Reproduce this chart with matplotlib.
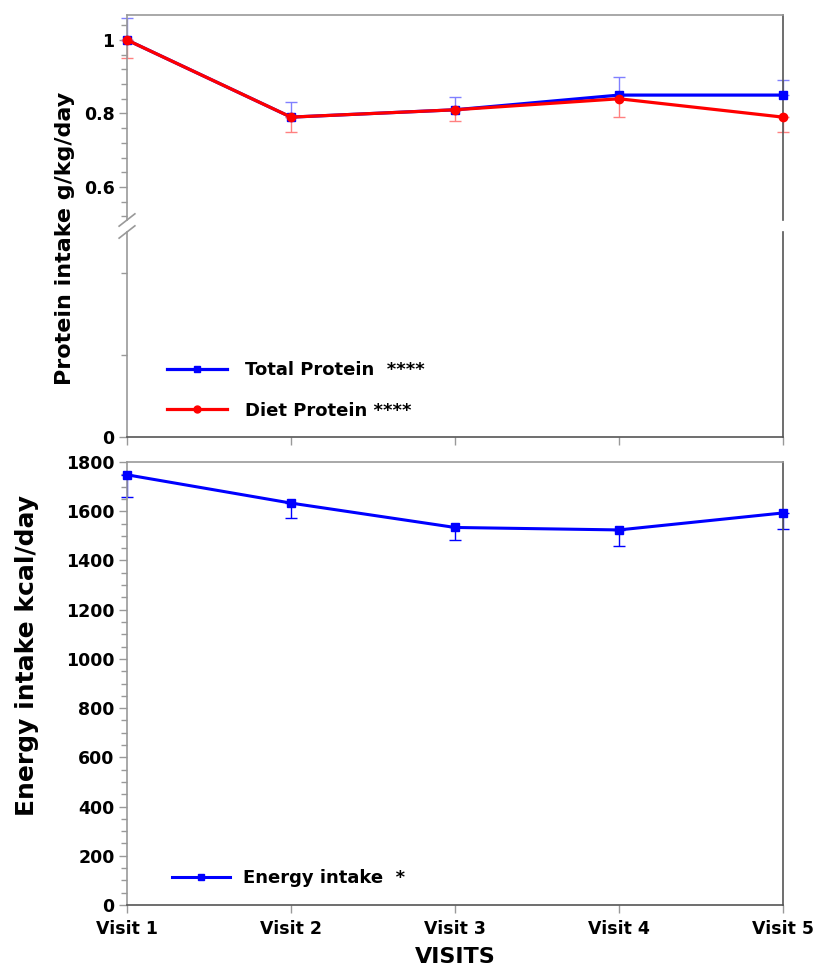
import matplotlib
matplotlib.use("Agg")
import matplotlib.pyplot as plt
from matplotlib.ticker import MultipleLocator, FuncFormatter, FixedLocator
from matplotlib.lines import Line2D

# ---------------- data ----------------
visits = ["Visit 1", "Visit 2", "Visit 3", "Visit 4", "Visit 5"]
total_protein = [1.00, 0.79, 0.81, 0.85, 0.85]
total_protein_err = [0.06, 0.04, 0.035, 0.05, 0.04]
diet_protein = [1.00, 0.79, 0.81, 0.84, 0.79]
diet_protein_err = [0.05, 0.04, 0.03, 0.05, 0.04]
energy = [1748, 1633, 1534, 1524, 1593]
energy_err = [90, 60, 51, 65, 65]
legend_protein = ["Total Protein  ****", "Diet Protein ****"]
legend_energy = ["Energy intake  *"]

W, H = 817, 974
fig = plt.figure(figsize=(W / 100, H / 100), dpi=100)
plt.rcParams['font.family'] = ['DejaVu Sans']
plt.rcParams['font.weight'] = 'bold'

BLUE = '#0000ff'
RED = '#ff0000'
GRAY = '#999999'
DARK = '#555555'

def fx(px):
    return px / W

def fy(py):
    return 1 - py / H

left = fx(127)
width = fx(783) - fx(127)

ax_up = fig.add_axes([left, fy(220), width, (220 - 15) / H])
ax_lo = fig.add_axes([left, fy(437), width, (437 - 232) / H])
ax_en = fig.add_axes([left, fy(905), width, (905 - 462) / H])

x = list(range(1, len(visits) + 1))
zeros = [0] * len(x)

def style(ax):
    for s in ax.spines.values():
        s.set_color(GRAY)
        s.set_linewidth(1.2)
    ax.spines['right'].set_color(DARK)
    ax.spines['bottom'].set_color(DARK)
    ax.tick_params(axis='both', which='major', direction='out', length=6,
                   width=1, color=GRAY, labelsize=12.5, pad=3)
    ax.tick_params(axis='both', which='minor', direction='out', length=4,
                   width=1, color=GRAY)
    ax.set_xlim(1, 5)

fmt = FuncFormatter(lambda v, p: "%g" % round(v, 3))

# ---- top panel, upper segment (data) ----
ax_up.errorbar(x, total_protein, yerr=[zeros, total_protein_err], fmt='none',
               ecolor='#8080ff', elinewidth=1, capsize=4, capthick=1, clip_on=False, zorder=2)
ax_up.errorbar(x, diet_protein, yerr=[diet_protein_err, zeros], fmt='none',
               ecolor='#ff8080', elinewidth=1, capsize=4, capthick=1, clip_on=False, zorder=2)
ax_up.plot(x, total_protein, color=BLUE, lw=2.3, marker='s', ms=6, clip_on=False, zorder=3)
ax_up.plot(x, diet_protein, color=RED, lw=2.3, marker='o', ms=6, clip_on=False, zorder=4)
style(ax_up)
style(ax_lo)

ax_up.set_ylim(0.51, 1.068)
ax_up.yaxis.set_major_locator(MultipleLocator(0.2))
ax_up.yaxis.set_minor_locator(MultipleLocator(0.04))
ax_up.yaxis.set_major_formatter(fmt)
ax_up.spines['bottom'].set_visible(False)
ax_up.set_xticks([])
for lab in ax_up.get_yticklabels():
    lab.set_fontweight('bold')

ax_lo.set_ylim(0, 0.5)
ax_lo.yaxis.set_major_locator(FixedLocator([0]))
ax_lo.yaxis.set_minor_locator(FixedLocator([0.2, 0.4]))
ax_lo.yaxis.set_major_formatter(fmt)
ax_lo.spines['top'].set_visible(False)
ax_lo.set_xticks(x)
ax_lo.set_xticklabels([])
for lab in ax_lo.get_yticklabels():
    lab.set_fontweight('bold')

# break marks on left spine
d = 0.012
kw = dict(color=GRAY, lw=1.2, clip_on=False)
ax_up.plot([-d, d], [-0.03, 0.03], transform=ax_up.transAxes, **kw)
ax_lo.plot([-d, d], [0.97, 1.03], transform=ax_lo.transAxes, **kw)

h1 = Line2D([], [], color=BLUE, lw=2.3, marker='s', ms=5)
h2 = Line2D([], [], color=RED, lw=2.3, marker='o', ms=5)
ax_lo.legend([h1, h2], legend_protein, loc='upper left',
             bbox_to_anchor=(fx(167), fy(361)), bbox_transform=fig.transFigure,
             frameon=False, borderpad=0, borderaxespad=0, handlelength=3.3,
             handletextpad=1.0, labelspacing=1.25,
             prop={'size': 13, 'weight': 'bold'})

# ---- energy panel ----
ax_en.errorbar(x, energy, yerr=[energy_err, zeros], fmt='none', ecolor=BLUE,
               elinewidth=1, capsize=4, capthick=1, clip_on=False, zorder=2)
ax_en.plot(x, energy, color=BLUE, lw=2.2, marker='s', ms=6, clip_on=False, zorder=3)
style(ax_en)
ax_en.set_ylim(0, 1800)
ax_en.yaxis.set_major_locator(MultipleLocator(200))
ax_en.yaxis.set_minor_locator(MultipleLocator(50))
ax_en.set_xticks(x)
ax_en.set_xticklabels(visits, fontsize=12.5, fontweight='bold')
ax_en.tick_params(axis='x', which='major', pad=5)
for lab in ax_en.get_yticklabels():
    lab.set_fontweight('bold')
ax_en.set_xlabel("VISITS", fontsize=16, fontweight='bold', labelpad=6)

h3 = Line2D([], [], color=BLUE, lw=2.2, marker='s', ms=5)
ax_en.legend([h3], legend_energy, loc='upper left',
             bbox_to_anchor=(fx(172), fy(869)), bbox_transform=fig.transFigure,
             frameon=False, borderpad=0, borderaxespad=0, handlelength=3.2,
             handletextpad=0.75, prop={'size': 13, 'weight': 'bold'})

fig.text(fx(65), fy(238), "Protein intake g/kg/day", rotation=90, ha='center',
         va='center', fontsize=16, fontweight='bold')
fig.text(fx(27), fy(656), "Energy intake kcal/day", rotation=90, ha='center',
         va='center', fontsize=18, fontweight='bold')

fig.savefig("out.png", dpi=100)
